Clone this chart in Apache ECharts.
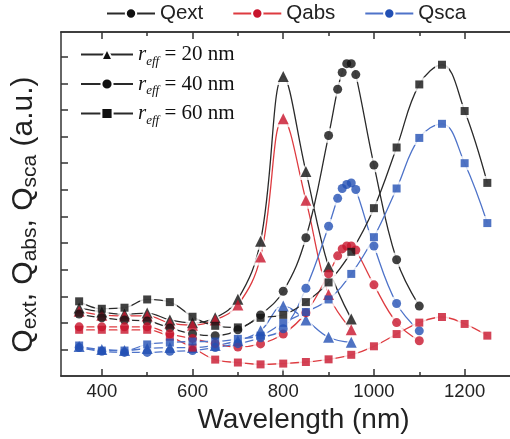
<!DOCTYPE html>
<html><head><meta charset="utf-8">
<script src="https://cdn.jsdelivr.net/npm/echarts@6/dist/echarts.min.js"></script>
<style>html,body{margin:0;padding:0;background:#fff}#c{width:510px;height:439px}</style>
</head><body><div id="c"></div>
<script>
// ---- data (arbitrary units) ----
const wl20 = [350,400,450,500,550,600,650,700,750,800,850,900,950];
const wl40 = [350,400,450,500,550,600,650,700,750,800,850,900,920,930,940,950,960,1000,1050,1100];
const wl60 = [350,400,450,500,550,600,650,700,750,800,850,900,950,1000,1050,1100,1150,1200,1250];

const qext20 = [2.56,2.41,2.33,2.37,2.11,2.00,2.19,2.89,5.07,11.26,7.69,4.11,2.15];
const qabs20 = [2.44,2.29,2.26,2.26,1.99,1.91,2.11,2.67,4.48,9.67,6.61,3.07,1.74];
const qsca20 = [1.11,1.00,0.96,1.04,1.07,1.07,1.15,1.33,1.70,2.63,2.11,1.46,1.27];

const qext40 = [2.33,2.19,2.11,2.07,1.81,1.59,1.52,1.74,2.30,3.19,5.20,9.04,10.78,11.41,11.74,11.74,11.33,7.93,4.37,2.63];
const qabs40 = [1.85,1.85,1.85,1.85,1.59,1.41,1.22,1.09,1.21,1.58,2.38,3.84,4.52,4.78,4.89,4.89,4.74,3.43,2.01,1.33];
const qsca40 = [1.07,0.93,0.89,0.89,0.93,0.96,1.07,1.22,1.44,1.78,3.30,5.63,6.68,7.05,7.20,7.26,7.01,4.89,2.73,1.70];

const qext60 = [2.81,2.53,2.57,2.88,2.78,2.23,1.89,1.83,2.19,2.30,2.78,3.52,4.67,6.31,8.59,10.96,11.70,9.96,7.26];
const qabs60 = [1.74,1.74,1.74,1.74,1.48,1.07,0.62,0.51,0.44,0.47,0.53,0.63,0.80,1.12,1.58,2.01,2.22,1.96,1.52];
const qsca60 = [1.15,0.96,0.96,1.19,1.26,1.30,1.30,1.40,1.52,2.00,2.41,2.88,3.84,5.22,7.05,8.95,9.48,8.00,5.75];

const qNames = ['Qext','Qabs','Qsca'];
const radii = [20,40,60];
const xMajor = [400,600,800,1000,1200];
const xMinor = [500,700,900,1100];
const yTicks = [1,2,3,4,5,6,7,8,9,10,11,12];

// ---- styling ----
const markerColor = {Qext:'#111111', Qabs:'#c8142c', Qsca:'#2350b4'};
const lineColor = {Qext:'#2a2a2a', Qabs:'#de3b40', Qsca:'#4e73c9'};
const shape = {20:{s:'triangle',size:11}, 40:{s:'circle',size:9}, 60:{s:'rect',size:8}};

const groups = [
  ['Qext',20,wl20,qext20],['Qabs',20,wl20,qabs20],['Qsca',20,wl20,qsca20],
  ['Qext',40,wl40,qext40],['Qabs',40,wl40,qabs40],['Qsca',40,wl40,qsca40],
  ['Qext',60,wl60,qext60],['Qabs',60,wl60,qabs60],['Qsca',60,wl60,qsca60]
];

const series = [];
groups.forEach(([q,r,xs,ys])=>{
  const data = xs.map((x,i)=>[x,ys[i]]);
  const sh = shape[r];
  series.push({type:'line',data,smooth:0.4,showSymbol:false,symbol:'none',
    lineStyle:{color:lineColor[q],width:1.3},z:2,silent:true,animation:false});
  series.push({type:'scatter',data,symbol:sh.s,symbolSize:sh.size+6,
    itemStyle:{color:'#ffffff'},z:3,silent:true,animation:false});
  series.push({type:'scatter',data,symbol:sh.s,symbolSize:sh.size,
    itemStyle:{color:markerColor[q]},z:4,silent:true,animation:false});
});
// legend-only series
qNames.forEach(q=>{
  series.push({name:q,type:'line',data:[],symbol:'circle',symbolSize:8,
    itemStyle:{color:markerColor[q],borderColor:'#fff',borderWidth:2},
    lineStyle:{color:lineColor[q],width:1.3}});
});
radii.forEach(r=>{
  series.push({name:'r'+r,type:'line',data:[],symbol:shape[r].s,symbolSize:shape[r].size,
    itemStyle:{color:'#111',borderColor:'#fff',borderWidth:2},
    lineStyle:{color:'#2a2a2a',width:1.3}});
});

const SANS = 'Arial, "Liberation Sans", Helvetica, sans-serif';
const SERIF = '"Liberation Serif", "Times New Roman", serif';
const axisLine = {show:true,lineStyle:{color:'#333',width:1.5}};
const xMin = 310, xMax = 1300;

function xAx(pos, vals, len, labels){
  return {type:'value',position:pos,min:xMin,max:xMax,
    axisLine,
    axisTick:{show:true,inside:true,length:len,customValues:vals,lineStyle:{color:'#333',width:1.5}},
    axisLabel:labels?{show:true,customValues:vals,formatter:v=>String(v),fontSize:18.5,fontFamily:SANS,color:'#222',margin:6}:{show:false},
    splitLine:{show:false}};
}

const xAxes = [
  Object.assign(xAx('bottom',xMajor,7,true),{name:'Wavelength (nm)',nameLocation:'middle',nameGap:23,
    nameTextStyle:{fontSize:28,fontFamily:SANS,color:'#222',padding:[0,0,0,36]}}),
  xAx('bottom',xMinor,4,false),
  xAx('top',xMajor,7,false),
  xAx('top',xMinor,4,false)
];
series.forEach(s=>{ s.xAxisIndex = 0; });

const legendIconStyle = {borderColor:'#fff',borderWidth:2};
const option = {
  backgroundColor:'#fff',
  animation:false,
  grid:{left:61,top:32,width:(xMax-xMin)*0.46625,height:349,containLabel:false},
  legend:[
    {data:qNames,left:106,top:3,padding:0,itemWidth:48,itemHeight:13,itemGap:29,
     itemStyle:legendIconStyle,
     textStyle:{fontSize:20.5,fontFamily:SANS,color:'#222'},selectedMode:false},
    {data:radii.map(r=>'r'+r),orient:'vertical',left:80,top:44,padding:0,itemWidth:52,itemHeight:14,itemGap:5.5,
     itemStyle:legendIconStyle,
     selectedMode:false,
     formatter:n=>'{r|r}{s|eff}{t| = '+n.slice(1)+' nm}',
     textStyle:{fontSize:21,fontFamily:SERIF,color:'#111',
       rich:{r:{fontFamily:SERIF,fontStyle:'italic',fontSize:21},
             s:{fontFamily:SERIF,fontStyle:'italic',fontSize:13,padding:[14,0,0,0]},
             t:{fontFamily:SERIF,fontSize:21}}}}
  ],
  xAxis:xAxes,
  yAxis:{type:'value',min:0,max:12.93,position:'left',
    axisLine,
    axisTick:{show:true,inside:true,length:7,customValues:yTicks,lineStyle:{color:'#333',width:1.5}},
    axisLabel:{show:false},splitLine:{show:false},
    name:'{q|Q}{s|ext}{q|, Q}{s|abs}{q|, Q}{s|sca}{q| (a.u.)}',
    nameLocation:'middle',nameRotate:90,nameGap:20,
    nameTextStyle:{color:'#222',padding:[0,21,0,0],
      rich:{q:{fontSize:30,fontFamily:SANS,color:'#222'},
            s:{fontSize:21,fontFamily:SANS,color:'#222',padding:[13,0,0,0]}}}},
  series
};
const chart = echarts.init(document.getElementById('c'),null,{renderer:'canvas'});
chart.setOption(option);
</script>
</body></html>
